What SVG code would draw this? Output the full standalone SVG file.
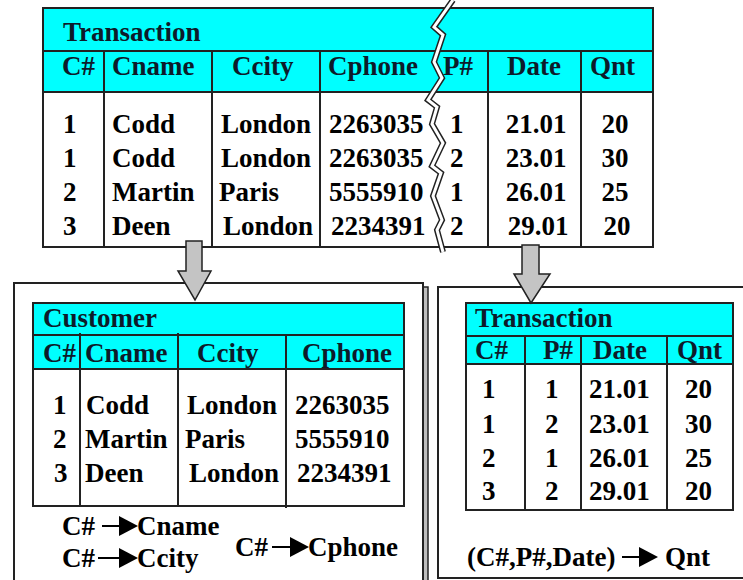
<svg xmlns="http://www.w3.org/2000/svg" width="743" height="580" viewBox="0 0 743 580">
<style>
text{font-family:"Liberation Serif","Times New Roman",Tinos,"Noto Serif","DejaVu Serif",FreeSerif,Georgia,serif;font-weight:bold;font-size:27px;fill:#000}
.h{fill:#0d1b2a}
.m{text-anchor:middle}
.band{fill:#00ffff;stroke:#222;stroke-width:2}
.tbl{fill:#fff;stroke:#222;stroke-width:2}
.ln{stroke:#222;stroke-width:2;fill:none}
.box{fill:#fff;stroke:#222;stroke-width:2}
.blk{fill:#c4c4c4;stroke:#222;stroke-width:1.5}
.fdl{stroke:#000;stroke-width:2}
</style>
<defs>
<marker id="fd" markerUnits="userSpaceOnUse" markerWidth="19" markerHeight="20" refX="0" refY="10" orient="auto">
<path d="M0,0 L19,10 L0,20 Z" fill="#000"/>
</marker>
</defs>
<rect width="743" height="580" fill="#fff"/>

<g id="source-transaction">
<rect class="tbl" x="43" y="8" width="610" height="239"/>
<rect class="band" x="43" y="8" width="610" height="43"/>
<rect class="band" x="43" y="51" width="610" height="41"/>
<line class="ln" x1="104" y1="51" x2="104" y2="247"/>
<line class="ln" x1="212" y1="51" x2="212" y2="247"/>
<line class="ln" x1="320" y1="51" x2="320" y2="247"/>
<line class="ln" x1="488" y1="51" x2="488" y2="247"/>
<line class="ln" x1="581" y1="51" x2="581" y2="247"/>
<text class="h" x="63" y="41">Transaction</text>
<text class="h" x="62" y="75">C#</text>
<text class="h" x="112" y="75">Cname</text>
<text class="h" x="232" y="75">Ccity</text>
<text class="h" x="328" y="75">Cphone</text>
<text class="h" x="443" y="75">P#</text>
<text class="h" x="507" y="75">Date</text>
<text class="h" x="590" y="75">Qnt</text>
<text x="63" y="133">1</text><text x="112" y="133">Codd</text><text x="221" y="133">London</text><text x="329" y="133">2263035</text><text x="450" y="133">1</text><text class="m" x="536" y="133">21.01</text><text class="m" x="615" y="133">20</text>
<text x="63" y="167">1</text><text x="112" y="167">Codd</text><text x="221" y="167">London</text><text x="329" y="167">2263035</text><text x="450" y="167">2</text><text class="m" x="536" y="167">23.01</text><text class="m" x="615" y="167">30</text>
<text x="63" y="201">2</text><text x="112" y="201">Martin</text><text x="219" y="201">Paris</text><text x="329" y="201">5555910</text><text x="450" y="201">1</text><text class="m" x="536" y="201">26.01</text><text class="m" x="615" y="201">25</text>
<text x="63" y="235">3</text><text x="112" y="235">Deen</text><text x="223" y="235">London</text><text x="331" y="235">2234391</text><text x="450" y="235">2</text><text class="m" x="538" y="235">29.01</text><text class="m" x="617" y="235">20</text>
<polyline points="453,0 434,27 443,35 434,62 442,78 428,100 437,107 432,124 443,143 432,166 441,173 433,196 442,220 437,230 443,252" fill="none" stroke="#222" stroke-width="6" stroke-linejoin="miter"/>
<polyline points="453,0 434,27 443,35 434,62 442,78 428,100 437,107 432,124 443,143 432,166 441,173 433,196 442,220 437,230 443,252" fill="none" stroke="#fff" stroke-width="3" stroke-linejoin="miter"/>
</g>

<g id="customer-panel">
<rect x="423" y="287" width="5" height="300" fill="#bdbdbd" stroke="#222" stroke-width="1.5"/>
<rect class="box" x="14" y="283" width="409" height="310"/>
<rect class="tbl" x="33" y="303" width="371" height="203"/>
<rect class="band" x="33" y="303" width="371" height="32"/>
<rect class="band" x="33" y="335" width="371" height="34"/>
<line class="ln" x1="80" y1="333" x2="80" y2="506"/>
<line class="ln" x1="178" y1="333" x2="178" y2="506"/>
<line class="ln" x1="286" y1="335" x2="286" y2="508"/>
<text class="h" x="43" y="327">Customer</text>
<text class="h" x="43" y="362">C#</text>
<text class="h" x="85" y="362">Cname</text>
<text class="h" x="197" y="362">Ccity</text>
<text class="h" x="302" y="362">Cphone</text>
<text x="53" y="414">1</text><text x="86" y="414">Codd</text><text x="187" y="414">London</text><text x="295" y="414">2263035</text>
<text x="53" y="448">2</text><text x="85" y="448">Martin</text><text x="185" y="448">Paris</text><text x="295" y="448">5555910</text>
<text x="54" y="482">3</text><text x="85" y="482">Deen</text><text x="189" y="482">London</text><text x="297" y="482">2234391</text>
<text x="62" y="535">C#</text><text x="137" y="535">Cname</text>
<text x="62" y="567">C#</text><text x="137" y="567">Ccity</text>
<text x="235" y="556">C#</text><text x="308" y="556">Cphone</text>
</g>

<g id="transaction-panel">
<rect class="box" x="438" y="287" width="320" height="291"/>
<rect class="tbl" x="466" y="303" width="267" height="207"/>
<rect class="band" x="466" y="303" width="267" height="33"/>
<rect class="band" x="466" y="336" width="267" height="28"/>
<line class="ln" x1="525" y1="336" x2="525" y2="510"/>
<line class="ln" x1="581" y1="336" x2="581" y2="510"/>
<line class="ln" x1="667" y1="336" x2="667" y2="510"/>
<text class="h" x="475" y="327">Transaction</text>
<text class="h" x="475" y="359">C#</text>
<text class="h" x="543" y="359">P#</text>
<text class="h" x="593" y="359">Date</text>
<text class="h" x="677" y="359">Qnt</text>
<text x="482" y="398">1</text><text x="545" y="398">1</text><text x="589" y="398">21.01</text><text x="685" y="398">20</text>
<text x="482" y="433">1</text><text x="545" y="433">2</text><text x="589" y="433">23.01</text><text x="685" y="433">30</text>
<text x="482" y="467">2</text><text x="545" y="467">1</text><text x="589" y="467">26.01</text><text x="685" y="467">25</text>
<text x="482" y="500">3</text><text x="545" y="500">2</text><text x="589" y="500">29.01</text><text x="685" y="500">20</text>
<text x="467" y="566">(C#,P#,Date)</text><text x="665" y="566">Qnt</text>
</g>

<g id="connectors">
<path class="blk" d="M186,241 H202 V271 H211 L195,300 L178,271 H186 Z"/>
<path class="blk" d="M522,245 H539 V274 H550 L531,303 L514,274 H522 Z"/>
<line class="fdl" x1="102" y1="526" x2="119" y2="526" marker-end="url(#fd)"/>
<line class="fdl" x1="98" y1="558" x2="119" y2="558" marker-end="url(#fd)"/>
<line class="fdl" x1="272" y1="547" x2="290" y2="547" marker-end="url(#fd)"/>
<line class="fdl" x1="622" y1="557" x2="639" y2="557" marker-end="url(#fd)"/>
</g>
</svg>
